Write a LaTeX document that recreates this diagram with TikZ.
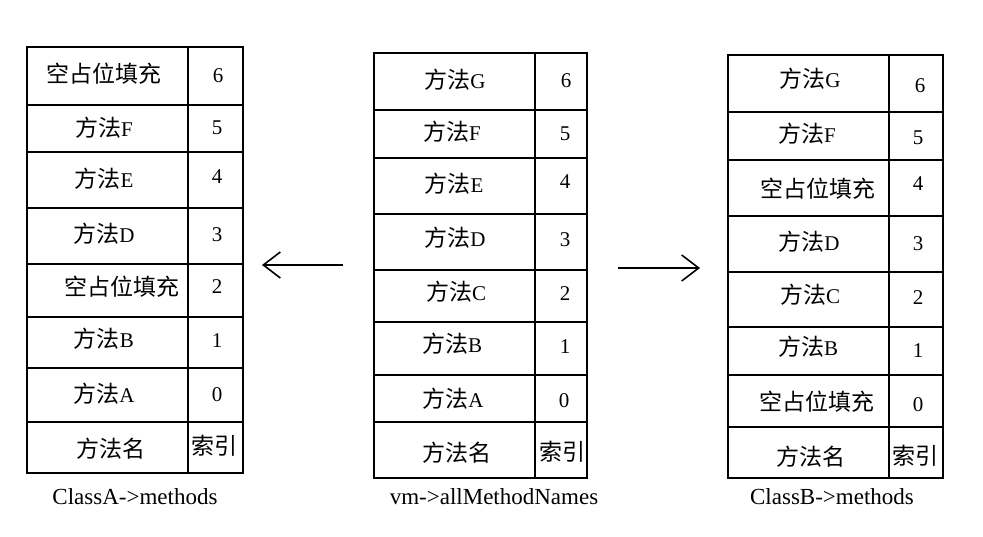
\documentclass[tikz,border=0pt]{standalone}
\usepackage{fontspec}
\setmainfont{Liberation Serif}
\newfontfamily\cjk{Noto Sans CJK SC}
\usetikzlibrary{arrows.meta}
\newcommand\zh[1]{{\cjk\fontsize{23}{27}\selectfont #1}}
\tikzset{
  gridline/.style={line width=1.9pt},
  txt/.style={inner sep=0pt, font=\fontsize{21}{25}\selectfont},
  lbl/.style={inner sep=0pt, font=\fontsize{23}{27}\selectfont},
  arr/.style={line width=1.6pt, -{Straight Barb[length=17pt,width=26pt,line width=1.6pt]}}
}
\begin{document}
\begin{tikzpicture}[x=1pt,y=-1pt]
\useasboundingbox (0,0) rectangle (983,537);
% ---------- left table ----------
\draw[gridline] (27,47) rectangle (243,473);
\draw[gridline] (188,47) -- (188,473);
\foreach \yy in {105,152,208,264,317,368,422} \draw[gridline] (27,\yy) -- (243,\yy);
\node[txt] (a6n) at (104,74) {\zh{空占位填充}};
\node[txt] (a6i) at (218,76) {6};
\node[txt] (a5n) at (104,128) {\zh{方法}F};
\node[txt] (a5i) at (217,128) {5};
\node[txt] (a4n) at (104,179) {\zh{方法}E};
\node[txt] (a4i) at (217,177) {4};
\node[txt] (a3n) at (104,234) {\zh{方法}D};
\node[txt] (a3i) at (217,235) {3};
\node[txt] (a2n) at (122,287) {\zh{空占位填充}};
\node[txt] (a2i) at (217,287) {2};
\node[txt] (a1n) at (104,339) {\zh{方法}B};
\node[txt] (a1i) at (217,341) {1};
\node[txt] (a0n) at (104,394) {\zh{方法}A};
\node[txt] (a0i) at (217,395) {0};
\node[txt] (ahn) at (111,449) {\zh{方法名}};
\node[txt] (ahi) at (214,446) {\zh{索引}};
\node[lbl] (alab) at (135,497) {ClassA->methods};
% ---------- middle table ----------
\draw[gridline] (374,53) rectangle (587,478);
\draw[gridline] (535,53) -- (535,478);
\foreach \yy in {110,158,214,270,322,375,422} \draw[gridline] (374,\yy) -- (587,\yy);
\node[txt] (m6n) at (455,80) {\zh{方法}G};
\node[txt] (m6i) at (566,81) {6};
\node[txt] (m5n) at (452,132) {\zh{方法}F};
\node[txt] (m5i) at (565,134) {5};
\node[txt] (m4n) at (454,184) {\zh{方法}E};
\node[txt] (m4i) at (565,182) {4};
\node[txt] (m3n) at (455,238) {\zh{方法}D};
\node[txt] (m3i) at (565,240) {3};
\node[txt] (m2n) at (456,292) {\zh{方法}C};
\node[txt] (m2i) at (565,294) {2};
\node[txt] (m1n) at (452,344) {\zh{方法}B};
\node[txt] (m1i) at (565,347) {1};
\node[txt] (m0n) at (453,399) {\zh{方法}A};
\node[txt] (m0i) at (564,401) {0};
\node[txt] (mhn) at (457,453) {\zh{方法名}};
\node[txt] (mhi) at (562,452) {\zh{索引}};
\node[lbl] (mlab) at (494,497) {vm->allMethodNames};
% ---------- right table ----------
\draw[gridline] (728,55) rectangle (943,478);
\draw[gridline] (889,55) -- (889,478);
\foreach \yy in {112,160,216,272,327,375,427} \draw[gridline] (728,\yy) -- (943,\yy);
\node[txt] (b6n) at (810,79) {\zh{方法}G};
\node[txt] (b6i) at (920,86) {6};
\node[txt] (b5n) at (807,134) {\zh{方法}F};
\node[txt] (b5i) at (918,138) {5};
\node[txt] (b4n) at (818,189) {\zh{空占位填充}};
\node[txt] (b4i) at (918,184) {4};
\node[txt] (b3n) at (809,242) {\zh{方法}D};
\node[txt] (b3i) at (918,244) {3};
\node[txt] (b2n) at (810,295) {\zh{方法}C};
\node[txt] (b2i) at (918,298) {2};
\node[txt] (b1n) at (808,347) {\zh{方法}B};
\node[txt] (b1i) at (918,351) {1};
\node[txt] (b0n) at (817,402) {\zh{空占位填充}};
\node[txt] (b0i) at (918,405) {0};
\node[txt] (bhn) at (811,457) {\zh{方法名}};
\node[txt] (bhi) at (915,456) {\zh{索引}};
\node[lbl] (blab) at (832,497) {ClassB->methods};
% ---------- arrows ----------
\coordinate (lt) at (343,265);
\coordinate (lh) at (262,265);
\coordinate (rt) at (618,268);
\coordinate (rh) at (700,268);
\draw[arr] (lt) -- (lh);
\draw[arr] (rt) -- (rh);
\end{tikzpicture}
\end{document}
